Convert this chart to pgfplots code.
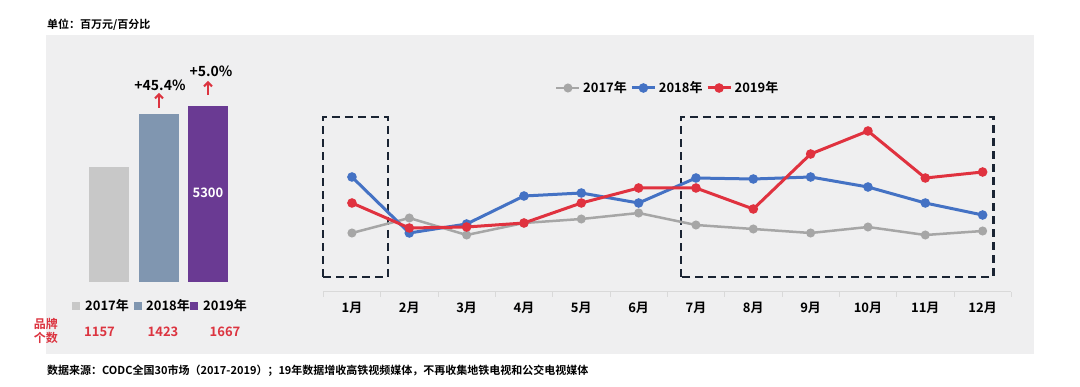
\documentclass[border=0pt]{standalone}
\usepackage{pgfplots}
\pgfplotsset{compat=1.18}
\usetikzlibrary{arrows.meta}
\usepackage{fontspec}
\setmainfont{Noto Sans CJK SC}[BoldFont={* Bold}]
\definecolor{panel}{HTML}{EFEFF0}
\definecolor{bar17}{HTML}{C8C8C8}
\definecolor{bar18}{HTML}{8096B0}
\definecolor{bar19}{HTML}{6A3A93}
\definecolor{l17}{HTML}{A6A6A6}
\definecolor{l18}{HTML}{4472C4}
\definecolor{l19}{HTML}{E0323F}
\definecolor{redtxt}{HTML}{DC3440}
\definecolor{boxcol}{HTML}{1A2433}
\definecolor{axisgray}{HTML}{D9D9D9}
\newcommand{\fs}[1]{\fontsize{#1}{#1}\selectfont}
\begin{document}
\begin{tikzpicture}
\fill[white] (0pt,0pt) rectangle (1080pt,386pt);
\fill[panel] (46pt,32pt) rectangle (1034pt,351pt);
\node[anchor=west,inner sep=0pt,font=\bfseries\fs{11}] at (47pt,361pt) {单位：百万元/百分比};
\node[anchor=west,inner sep=0pt,font=\bfseries\fs{11}] at (47pt,15pt) {数据来源：CODC全国30市场（2017-2019）；19年数据增收高铁视频媒体，不再收集地铁电视和公交电视媒体};

% bar chart
\begin{axis}[at={(84.25pt,104pt)},anchor=south west,scale only axis,
  width=148.5pt,height=200pt,xmin=-0.5,xmax=2.5,ymin=0,ymax=6023,
  axis lines=none,ybar,bar width=40pt,bar shift=0pt,clip=false]
\addplot[fill=bar17,draw=none] coordinates {(0,3472)};
\addplot[fill=bar18,draw=none] coordinates {(1,5048)};
\addplot[fill=bar19,draw=none] coordinates {(2,5300)};
\node[white,font=\bfseries\fs{13}] at (axis cs:2,2680) {5300};
\end{axis}
\node[font=\bfseries\fs{14}] at (160pt,301pt) {+45.4\%};
\node[font=\bfseries\fs{14}] at (211pt,315pt) {+5.0\%};
\draw[redtxt,line width=2pt,-{Straight Barb[length=4pt,width=8pt]}] (159pt,278pt) -- (159pt,293pt);
\draw[redtxt,line width=2pt,-{Straight Barb[length=4pt,width=8pt]}] (208pt,291pt) -- (208pt,305pt);
% bar legend
\fill[bar17] (72pt,76pt) rectangle (80pt,84pt);
\fill[bar18] (134pt,76pt) rectangle (142pt,84pt);
\fill[bar19] (190pt,76pt) rectangle (198pt,84pt);
\node[anchor=west,inner sep=0pt,font=\bfseries\fs{13}] at (85pt,80pt) {2017年};
\node[anchor=west,inner sep=0pt,font=\bfseries\fs{13}] at (146pt,80pt) {2018年};
\node[anchor=west,inner sep=0pt,font=\bfseries\fs{13}] at (203pt,80pt) {2019年};
\node[align=center,inner sep=0pt,text=redtxt,font=\bfseries\fs{12}] at (46pt,55pt) {品牌\\[2pt]个数};
\node[text=redtxt,font=\bfseries\fs{13}] at (99.5pt,54pt) {1157};
\node[text=redtxt,font=\bfseries\fs{13}] at (163pt,54pt) {1423};
\node[text=redtxt,font=\bfseries\fs{13}] at (225pt,54pt) {1667};

% line chart
\begin{axis}[at={(323.3pt,94pt)},anchor=south west,scale only axis,
  width=688pt,height=192pt,xmin=0.5,xmax=12.5,ymin=0,ymax=192,
  axis x line*=bottom,axis y line=none,
  x axis line style={draw=axisgray,line width=1pt,-},
  xtick={1,...,12},
  xticklabels={1月,2月,3月,4月,5月,6月,7月,8月,9月,10月,11月,12月},
  major tick length=0pt,
  minor xtick={0.5,1.5,...,12.5},minor tick length=5pt,tick align=outside,
  minor tick style={draw=axisgray,line width=0.8pt},
  xticklabel style={anchor=center,yshift=-15.5pt,font=\bfseries\fs{13}},
  clip=false,
  legend columns=3,
  legend style={at={(0.501,1.0625)},anchor=center,draw=none,fill=none,
    font=\bfseries\fs{13},inner sep=0pt,
    nodes={inner sep=2.5pt},
    /tikz/every even column/.append style={column sep=1pt}},
  legend image code/.code={\draw[mark repeat=2,mark phase=2,#1] plot coordinates {(0pt,0pt) (11.5pt,0pt) (23pt,0pt)};},
  every axis plot/.append style={mark=*,mark size=3.2pt}]
\draw[boxcol,line width=2.5pt,dash pattern=on 8pt off 5pt] (axis cs:0.494,15) rectangle (axis cs:1.628,175);
\draw[boxcol,line width=2.5pt,dash pattern=on 8pt off 5pt] (axis cs:6.736,15) rectangle (axis cs:12.19,175);
\addplot[l17,line width=2.5pt,mark options={fill=l17}] coordinates {(1,59)(2,74)(3,57)(4,69)(5,73)(6,79)(7,67)(8,63)(9,59)(10,65)(11,57)(12,61)};
\addplot[l18,line width=3pt,mark options={fill=l18}] coordinates {(1,115)(2,59)(3,68)(4,96)(5,99)(6,89)(7,114)(8,113)(9,115)(10,105)(11,89)(12,77)};
\addplot[l19,line width=3pt,mark options={fill=l19}] coordinates {(1,89)(2,64)(3,65)(4,69)(5,89)(6,104)(7,104)(8,83)(9,138)(10,161)(11,114)(12,120)};
\legend{2017年,2018年,2019年}
\end{axis}
\end{tikzpicture}
\end{document}
